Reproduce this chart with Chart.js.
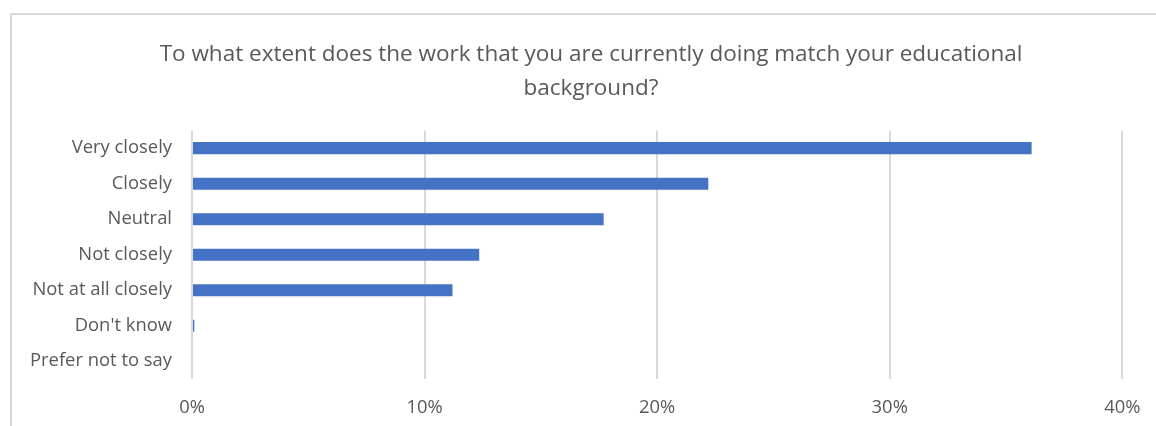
<!DOCTYPE html>
<html>
<head>
<meta charset="utf-8">
<script src="https://cdn.jsdelivr.net/npm/chart.js@4.4.1/dist/chart.umd.min.js"></script>
<style>
  html, body { margin: 0; padding: 0; background: #ffffff; }
  body { width: 1156px; height: 426px; position: relative; overflow: hidden; }
  #frame { position: absolute; left: 10px; top: 13px; width: 1200px; height: 500px;
           border: 2px solid #d9d9d9; box-sizing: border-box; }
  #wrap { position: absolute; left: 0; top: 0; width: 1180px; height: 426px; }
</style>
</head>
<body>
<div id="frame"></div>
<div id="wrap"><canvas id="c" width="1180" height="426"></canvas></div>
<script>
const titleLines = ["To what extent does the work that you are currently doing match your educational", "background?"];
const categories = ["Very closely", "Closely", "Neutral", "Not closely", "Not at all closely", "Don't know", "Prefer not to say"];
const shares = [36.1, 22.2, 17.7, 12.35, 11.2, 0.1, 0];
const xTicks = [0, 10, 20, 30, 40];

const FONT = "'Open Sans', sans-serif";
const TEXT = "#595959";
const PL = 20, PR = 18;

new Chart(document.getElementById('c'), {
  type: 'bar',
  data: {
    labels: categories,
    datasets: [{
      data: shares,
      backgroundColor: '#4472C4',
      borderWidth: 0,
      categoryPercentage: 1,
      barPercentage: 0.34
    }]
  },
  options: {
    indexAxis: 'y',
    responsive: false,
    animation: false,
    devicePixelRatio: 1,
    layout: { padding: { left: PL, right: PR, top: 0, bottom: 0 } },
    plugins: {
      legend: { display: false },
      tooltip: { enabled: false },
      title: {
        display: true,
        text: titleLines,
        color: TEXT,
        font: { family: FONT, size: 22.5, weight: 'normal', lineHeight: 1.52 },
        padding: { top: 37, bottom: 25 }
      }
    },
    scales: {
      x: {
        min: 0, max: 40,
        afterBuildTicks: (s) => { s.ticks = xTicks.map(v => ({ value: v })); },
        afterFit: (s) => { s.height = 47; },
        ticks: {
          callback: (v) => v + '%',
          color: TEXT,
          font: { family: FONT, size: 18.4 },
          padding: 18,
          maxRotation: 0
        },
        grid: { color: '#d9d9d9', lineWidth: 2, drawTicks: false },
        border: { display: false }
      },
      y: {
        afterFit: (s) => { s.width = 192 - PL; },
        ticks: {
          color: TEXT,
          font: { family: FONT, size: 18.4 },
          padding: 0
        },
        grid: { display: false, drawTicks: true, tickLength: 20, tickColor: 'rgba(0,0,0,0)' },
        border: { display: false }
      },
      pad: {
        axis: 'y',
        type: 'category',
        position: 'right',
        labels: categories,
        afterFit: (s) => { s.width = 1180 - PR - 1122.3; },
        ticks: { display: false },
        grid: { display: false },
        border: { display: false }
      }
    }
  }
});
</script>
</body>
</html>
